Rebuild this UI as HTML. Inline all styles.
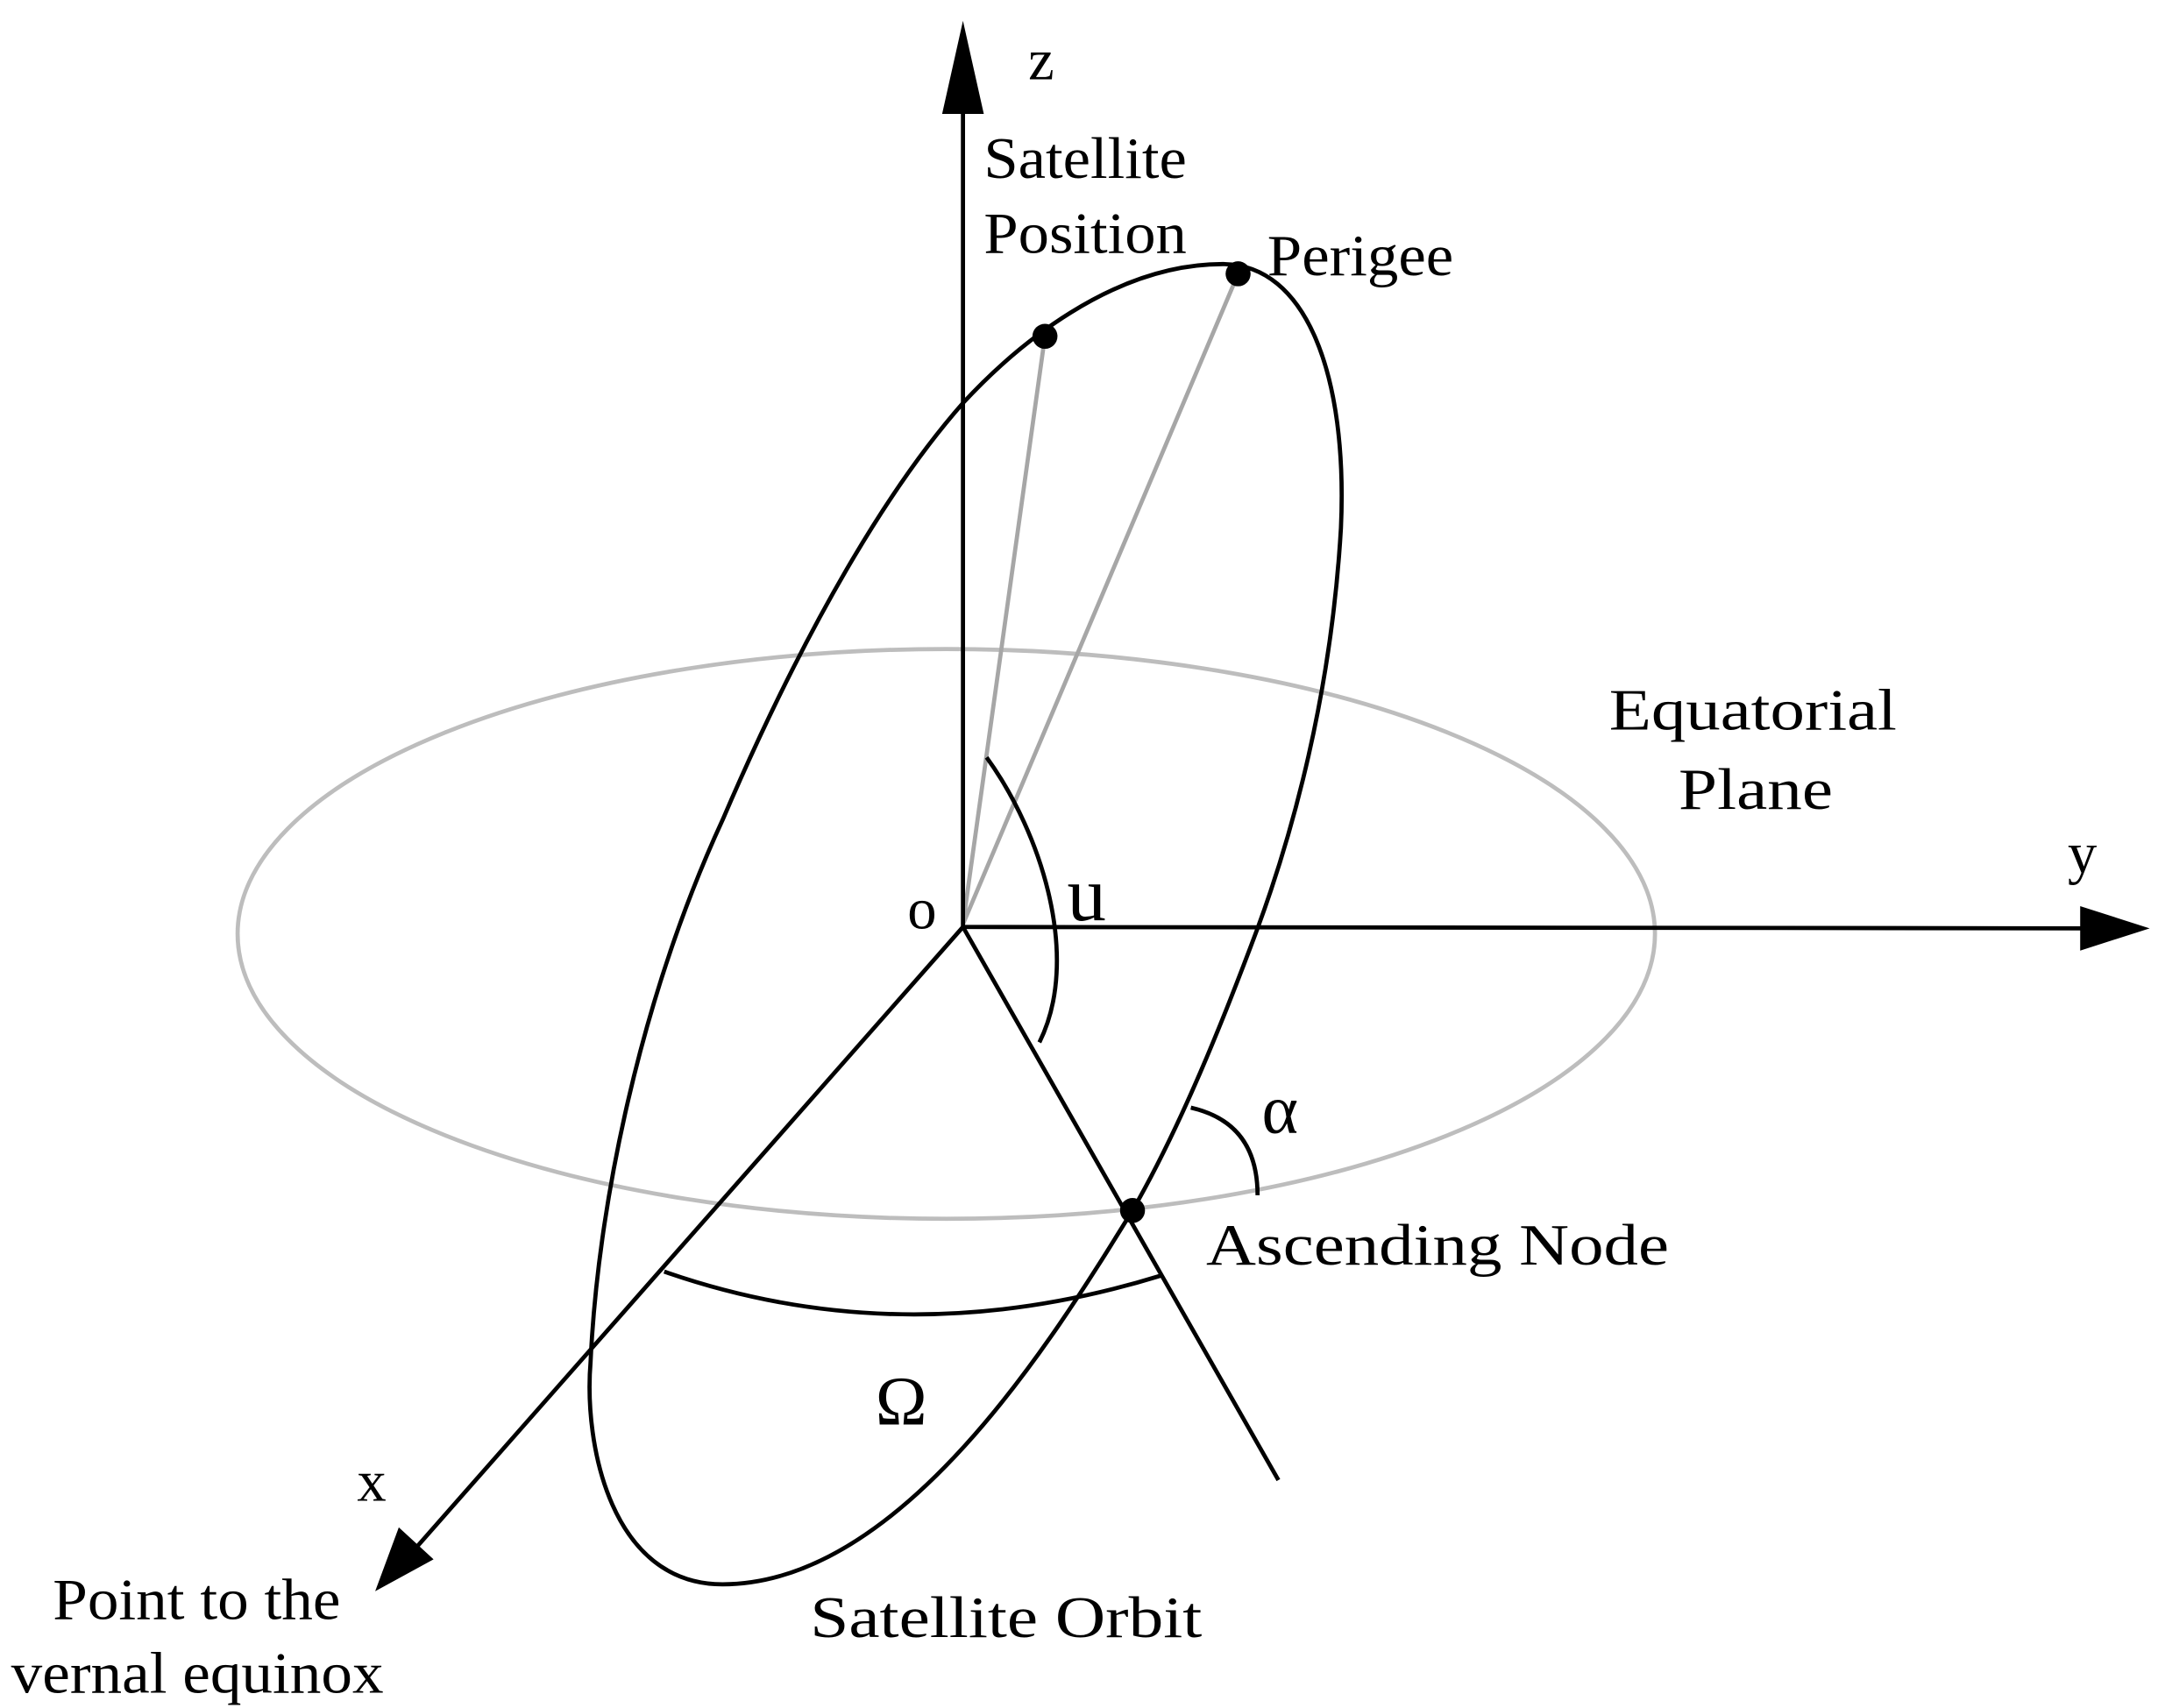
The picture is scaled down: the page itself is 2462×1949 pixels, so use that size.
<!DOCTYPE html>
<html><head><style>html,body{margin:0;padding:0;background:#fff}svg{display:block}</style></head>
<body>
<svg width="2462" height="1949" viewBox="0 0 1553 1229" preserveAspectRatio="none" xmlns="http://www.w3.org/2000/svg">
<g fill="none">
<ellipse cx="681" cy="672" rx="510" ry="205" stroke="#bdbdbd" stroke-width="3"/>
<path d="M880,190 C940,190 970,270 965,380 C958,500 930,600 905,668 C880,735 850,810 815,871 C760,960 650,1140 520,1140 C440,1140 420,1040 425,980 C430,870 460,720 520,590 C580,450 640,350 693,290 C730,250 800,190 880,190 Z" stroke="#000" stroke-width="3"/>
<line x1="693" y1="665" x2="752" y2="242" stroke="#a6a6a6" stroke-width="3"/>
<line x1="693" y1="665" x2="891" y2="197" stroke="#a6a6a6" stroke-width="3"/>
<line x1="693" y1="667" x2="693" y2="70" stroke="#000" stroke-width="3"/>
<line x1="693" y1="667" x2="1505" y2="668" stroke="#000" stroke-width="3"/>
<line x1="693" y1="667" x2="300" y2="1113" stroke="#000" stroke-width="3"/>
<line x1="693" y1="667" x2="920" y2="1065" stroke="#000" stroke-width="3"/>
<path d="M710,545 C750,600 778,690 748,750" stroke="#000" stroke-width="3"/>
<path d="M857,797 Q905,808 905,860" stroke="#000" stroke-width="3"/>
<path d="M478,915 Q650,975 835,918" stroke="#000" stroke-width="3"/>
</g>
<polygon points="693,15 678,82 708,82" fill="#000"/>
<polygon points="1547,668 1497,652 1497,684" fill="#000"/>
<polygon points="270,1145 287,1099 312,1122" fill="#000"/>
<circle cx="752" cy="242" r="9" fill="#000"/>
<circle cx="891" cy="197" r="9" fill="#000"/>
<circle cx="815" cy="871" r="9" fill="#000"/>
<g font-family="Liberation Serif, serif" font-size="42" fill="#000" lengthAdjust="spacingAndGlyphs">
<text x="740" y="57">z</text>
<text x="708" y="128" textLength="146" lengthAdjust="spacingAndGlyphs">Satellite</text>
<text x="708" y="182" textLength="146" lengthAdjust="spacingAndGlyphs">Position</text>
<text x="912" y="198" textLength="134" lengthAdjust="spacingAndGlyphs">Perigee</text>
<text x="1158" y="525" textLength="207" lengthAdjust="spacingAndGlyphs">Equatorial</text>
<text x="1208" y="582" textLength="111" lengthAdjust="spacingAndGlyphs">Plane</text>
<text x="1488" y="628">y</text>
<text x="653" y="668">o</text>
<text x="768" y="662" font-size="56">u</text>
<text x="908" y="815" font-size="50">α</text>
<text x="868" y="910" textLength="333" lengthAdjust="spacingAndGlyphs">Ascending Node</text>
<text x="630" y="1025" font-size="50">Ω</text>
<text x="257" y="1080">x</text>
<text x="38" y="1165" textLength="207" lengthAdjust="spacingAndGlyphs">Point to the</text>
<text x="8" y="1218" textLength="268" lengthAdjust="spacingAndGlyphs">vernal equinox</text>
<text x="583" y="1178" textLength="282" lengthAdjust="spacingAndGlyphs">Satellite Orbit</text>
</g>
</svg>
</body></html>
